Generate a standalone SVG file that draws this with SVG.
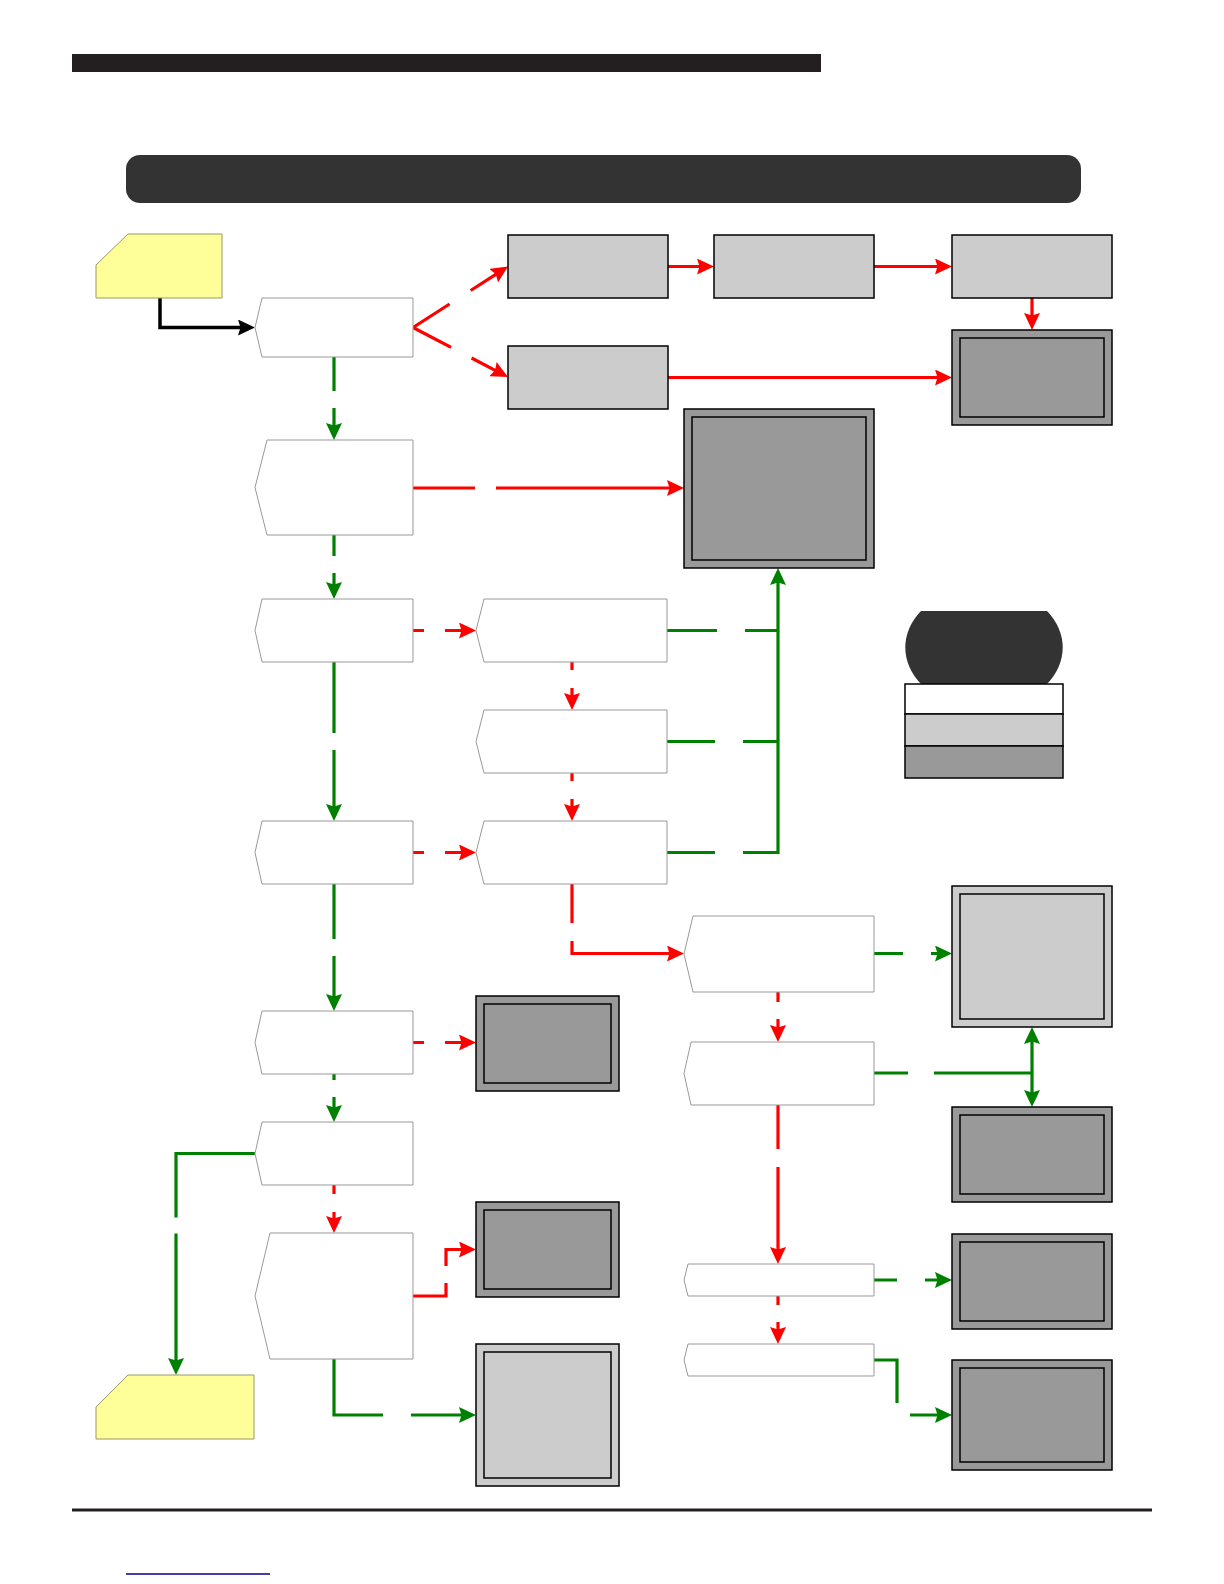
<svg xmlns="http://www.w3.org/2000/svg" width="1224" height="1584" viewBox="0 0 1224 1584">
<style>
.proc{fill:#fff;stroke:#999;stroke-width:1}
.lite{fill:#ccc;stroke:#000;stroke-width:1.5}
.dark{fill:#999;stroke:#000;stroke-width:1.5}
.yel{fill:#ffff99;stroke:#999966;stroke-width:1}
.r{fill:none;stroke:#ff0000;stroke-width:3.2}
.g{fill:none;stroke:#008000;stroke-width:3.2}
.k{fill:none;stroke:#000;stroke-width:3.5}
.ra{marker-end:url(#ar)}
.ga{marker-end:url(#ag)}
</style>
<defs>
<marker id="ar" markerUnits="userSpaceOnUse" viewBox="0 0 17 16" refX="9" refY="8" markerWidth="17" markerHeight="16" orient="auto"><path d="M0,0 L17,8 L0,16 L2.5,8 Z" fill="#ff0000"/></marker>
<marker id="ag" markerUnits="userSpaceOnUse" viewBox="0 0 17 16" refX="9" refY="8" markerWidth="17" markerHeight="16" orient="auto-start-reverse"><path d="M0,0 L17,8 L0,16 L2.5,8 Z" fill="#008000"/></marker>
<marker id="ak" markerUnits="userSpaceOnUse" viewBox="0 0 17 16" refX="9" refY="8" markerWidth="17" markerHeight="16" orient="auto"><path d="M0,0 L17,8 L0,16 L2.5,8 Z" fill="#000"/></marker>
</defs>
<rect x="72" y="54" width="749" height="18" fill="#231f20"/>
<rect x="126" y="155" width="955" height="48" rx="14" fill="#333"/>
<g id="legend">
<path d="M921,611 L1047,611 A79 61 0 0 1 1047,684 L921,684 A79 61 0 0 1 921,611 Z" fill="#333"/>
<rect x="905" y="684" width="158" height="30" fill="#fff" stroke="#000" stroke-width="1.5"/>
<rect x="905" y="714" width="158" height="32" fill="#ccc" stroke="#000" stroke-width="1.5"/>
<rect x="905" y="746" width="158" height="32" fill="#999" stroke="#000" stroke-width="1.5"/>
</g>
<g id="connectors">
<path class="k" marker-end="url(#ak)" d="M160,298 V327.5 H247"/>
<path class="r ra" d="M413,327.5 L501.3,270.8" stroke-dasharray="43.5 25 200"/>
<path class="r ra" d="M413,327.5 L500.9,373.3" stroke-dasharray="43 23 200"/>
<path class="r ra" d="M668,266.5 H706"/>
<path class="r ra" d="M874,266.5 H944"/>
<path class="r ra" d="M1032,298 V322"/>
<path class="r ra" d="M668,377.5 H944"/>
<path class="r ra" d="M413,488 H676" stroke-dasharray="62 21 400"/>
<path class="r ra" d="M413,630.5 H468" stroke-dasharray="11 21 100"/>
<path class="r ra" d="M572,662 V702" stroke-dasharray="8 18 100"/>
<path class="r ra" d="M572,773 V813" stroke-dasharray="8 18 100"/>
<path class="r ra" d="M413,852.5 H468" stroke-dasharray="11 21 100"/>
<path class="r ra" d="M572,884 V953.5 H676" stroke-dasharray="39 18 500"/>
<path class="r ra" d="M778,992 V1034" stroke-dasharray="10 17 100"/>
<path class="r ra" d="M778,1105 V1256" stroke-dasharray="44 18 300"/>
<path class="r ra" d="M778,1296 V1336" stroke-dasharray="9 17 100"/>
<path class="r ra" d="M413,1042.5 H468" stroke-dasharray="11 21 100"/>
<path class="r ra" d="M334,1185 V1225" stroke-dasharray="9 18 100"/>
<path class="r ra" d="M413,1296 H446 V1249.5 H468" stroke-dasharray="46 17 200"/>
<path class="g ga" d="M334,357 V432" stroke-dasharray="34 17 200"/>
<path class="g ga" d="M334,535 V591" stroke-dasharray="21 17 100"/>
<path class="g ga" d="M334,662 V813" stroke-dasharray="71 17 200"/>
<path class="g ga" d="M334,884 V1003" stroke-dasharray="55 17 200"/>
<path class="g ga" d="M334,1074 V1114" stroke-dasharray="6 17 100"/>
<path class="g ga" d="M255,1153.5 H176 V1367" stroke-dasharray="143 16 400"/>
<path class="g ga" d="M334,1359 V1415 H468" stroke-dasharray="105 28 300"/>
<path class="g" d="M667,630.5 H778" stroke-dasharray="50 28 100"/>
<path class="g" d="M667,741.5 H778" stroke-dasharray="48 28 100"/>
<path class="g ga" d="M667,852.5 H778 V576" stroke-dasharray="48 28 1000"/>
<path class="g ga" d="M874,953.5 H944" stroke-dasharray="29 28 100"/>
<path class="g" d="M874,1073 H1032" stroke-dasharray="34 26 200"/>
<path class="g ga" marker-start="url(#ag)" d="M1032,1035 V1099"/>
<path class="g ga" d="M874,1280 H944" stroke-dasharray="23 28 100"/>
<path class="g ga" d="M874,1360 H897 V1415 H944" stroke-dasharray="66 25 300"/>
</g>
<g id="start"><path class="yel" d="M128,234 H222 V298 H96 V265 Z"/></g>
<g id="end"><path class="yel" d="M128,1375 H254 V1439 H96 V1407 Z"/></g>
<g id="n1"><path class="proc" d="M262,298 H413 V357 H262 L255,327.5 Z"/></g>
<g id="n2"><path class="proc" d="M267,440 H413 V535 H267 L255,487.5 Z"/></g>
<g id="n3"><path class="proc" d="M262,599 H413 V662 H262 L255,630.5 Z"/></g>
<g id="n7"><path class="proc" d="M262,821 H413 V884 H262 L255,852.5 Z"/></g>
<g id="n8"><path class="proc" d="M262,1011 H413 V1074 H262 L255,1042.5 Z"/></g>
<g id="n9"><path class="proc" d="M262,1122 H413 V1185 H262 L255,1153.5 Z"/></g>
<g id="n10"><path class="proc" d="M270,1233 H413 V1359 H270 L255,1296 Z"/></g>
<g id="n4"><path class="proc" d="M484,599 H667 V662 H484 L476,630.5 Z"/></g>
<g id="n5"><path class="proc" d="M484,710 H667 V773 H484 L476,741.5 Z"/></g>
<g id="n6"><path class="proc" d="M484,821 H667 V884 H484 L476,852.5 Z"/></g>
<g id="n11"><path class="proc" d="M693,916 H874 V992 H693 L684,954 Z"/></g>
<g id="n12"><path class="proc" d="M691,1042 H874 V1105 H691 L684,1073.5 Z"/></g>
<g id="n13"><path class="proc" d="M688,1264 H874 V1296 H688 L684,1280 Z"/></g>
<g id="n14"><path class="proc" d="M688,1344 H874 V1376 H688 L684,1360 Z"/></g>
<g id="a"><rect class="lite" x="508" y="235" width="160" height="63"/></g>
<g id="b"><rect class="lite" x="714" y="235" width="160" height="63"/></g>
<g id="c"><rect class="lite" x="952" y="235" width="160" height="63"/></g>
<g id="d"><rect class="lite" x="508" y="346" width="160" height="63"/></g>
<g id="e"><rect class="dark" x="952" y="330" width="160" height="95"/><rect class="dark" x="960" y="338" width="144" height="79"/></g>
<g id="f"><rect class="dark" x="684" y="409" width="190" height="159"/><rect class="dark" x="692" y="417" width="174" height="143"/></g>
<g id="gbox"><rect class="dark" x="476" y="996" width="143" height="95"/><rect class="dark" x="484" y="1004" width="127" height="79"/></g>
<g id="hbox"><rect class="dark" x="476" y="1202" width="143" height="95"/><rect class="dark" x="484" y="1210" width="127" height="79"/></g>
<g id="ibox"><rect class="lite" x="476" y="1344" width="143" height="142"/><rect class="lite" x="484" y="1352" width="127" height="126"/></g>
<g id="jbox"><rect class="lite" x="952" y="886" width="160" height="141"/><rect class="lite" x="960" y="894" width="144" height="125"/></g>
<g id="kbox"><rect class="dark" x="952" y="1107" width="160" height="95"/><rect class="dark" x="960" y="1115" width="144" height="79"/></g>
<g id="lbox"><rect class="dark" x="952" y="1234" width="160" height="95"/><rect class="dark" x="960" y="1242" width="144" height="79"/></g>
<g id="mbox"><rect class="dark" x="952" y="1360" width="160" height="110"/><rect class="dark" x="960" y="1368" width="144" height="94"/></g>
<line x1="72" y1="1510" x2="1152" y2="1510" stroke="#231f20" stroke-width="3"/>
<line x1="126" y1="1574" x2="270" y2="1574" stroke="#000080" stroke-width="1.5"/>
</svg>
